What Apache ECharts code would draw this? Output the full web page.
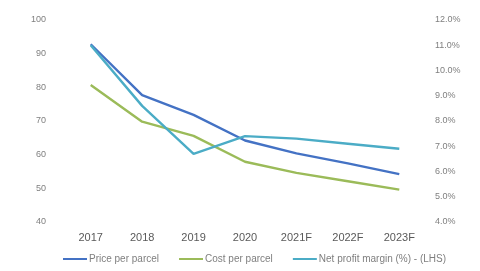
<!DOCTYPE html>
<html>
<head>
<meta charset="utf-8">
<script src="https://cdn.jsdelivr.net/npm/echarts@6/dist/echarts.min.js"></script>
<style>
  html, body { margin: 0; padding: 0; background: #fff; }
  #chart { width: 480px; height: 271px; }
</style>
</head>
<body>
<div id="chart"></div>
<script>
// values
var years = ["2017", "2018", "2019", "2020", "2021F", "2022F", "2023F"];
var pricePerParcel = [92.8, 77.7, 71.8, 64.2, 60.4, 57.4, 54.2];
var costPerParcel = [80.7, 69.8, 65.6, 57.9, 54.6, 52.1, 49.6];
var netMargin = [11.0, 8.6, 6.7, 7.4, 7.3, 7.1, 6.9];

var labelColor = "#7f7f7f";

var myChart = echarts.init(document.getElementById("chart"));
myChart.setOption({
  animation: false,
  grid: { left: 65, right: 55, top: 20, bottom: 49 },
  legend: {
    bottom: 2,
    left: 58,
    itemWidth: 24,
    itemHeight: 2,
    itemGap: 20,
    icon: "rect",
    textStyle: { fontSize: 10, color: labelColor, fontFamily: "Liberation Sans", padding: [0, 0, 0, -3] },
    data: ["Price per parcel", "Cost per parcel", "Net profit margin (%) - (LHS)"]
  },
  xAxis: {
    type: "category",
    data: years,
    boundaryGap: true,
    axisLine: { show: false },
    axisTick: { show: false },
    axisLabel: { color: "#595959", fontSize: 11, margin: 10, fontFamily: "Liberation Sans" }
  },
  yAxis: [
    {
      type: "value",
      min: 40, max: 100, interval: 10,
      splitLine: { show: false },
      axisLine: { show: false },
      axisTick: { show: false },
      axisLabel: { color: labelColor, fontSize: 9, margin: 19, fontFamily: "Liberation Sans" }
    },
    {
      type: "value",
      min: 4, max: 12, interval: 1,
      splitLine: { show: false },
      axisLine: { show: false },
      axisTick: { show: false },
      axisLabel: {
        color: labelColor, fontSize: 9, margin: 10, fontFamily: "Liberation Sans",
        formatter: function (v) { return v.toFixed(1) + "%"; }
      }
    }
  ],
  series: [
    {
      name: "Price per parcel",
      type: "line",
      data: pricePerParcel,
      symbol: "none",
      lineStyle: { width: 2.4, color: "#4472C4" },
      itemStyle: { color: "#4472C4" }
    },
    {
      name: "Cost per parcel",
      type: "line",
      data: costPerParcel,
      symbol: "none",
      lineStyle: { width: 2.4, color: "#9BBB59" },
      itemStyle: { color: "#9BBB59" }
    },
    {
      name: "Net profit margin (%) - (LHS)",
      type: "line",
      yAxisIndex: 1,
      data: netMargin,
      symbol: "none",
      lineStyle: { width: 2.4, color: "#4BACC6" },
      itemStyle: { color: "#4BACC6" }
    }
  ]
});
</script>
</body>
</html>
